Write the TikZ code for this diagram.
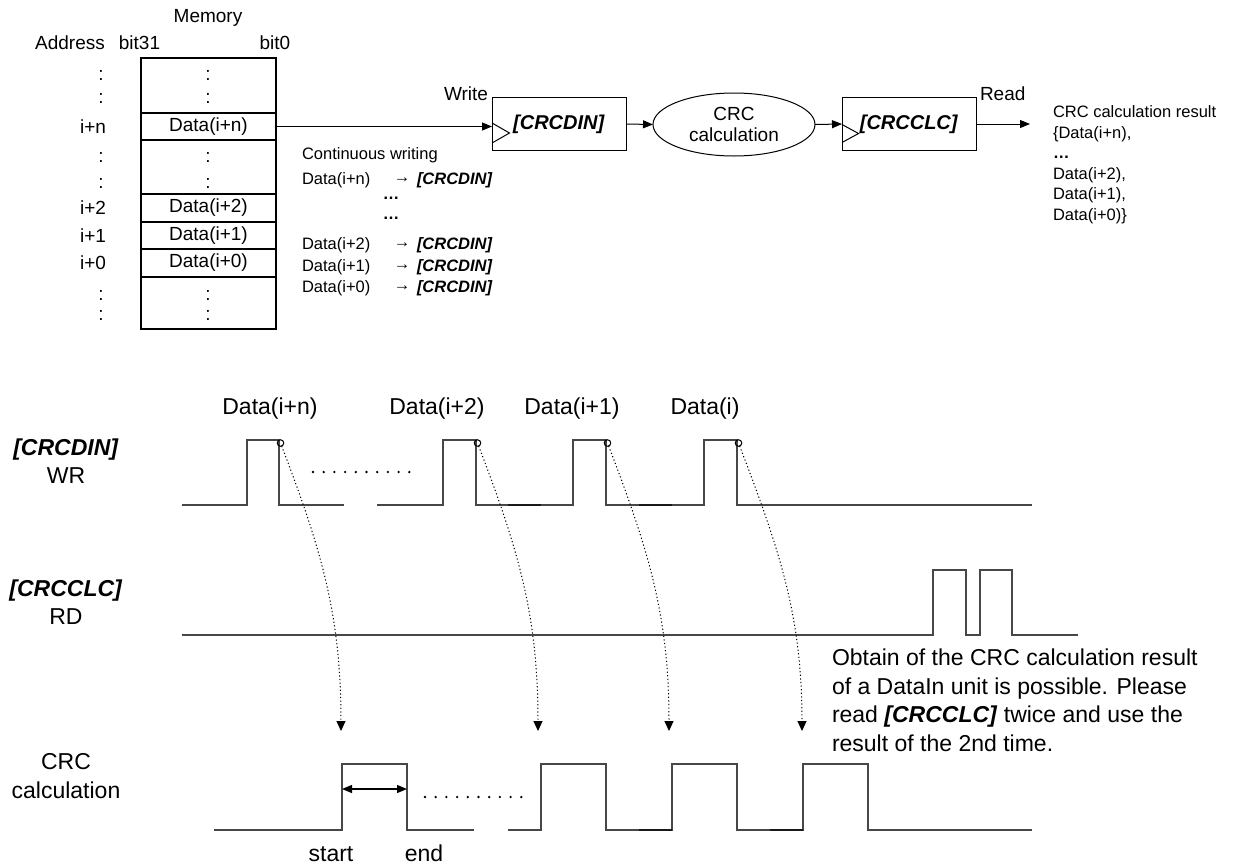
\documentclass[tikz,border=0pt]{standalone}
\usepackage{fontspec}
\setmainfont{Liberation Sans}
\usetikzlibrary{arrows.meta,shapes.geometric}
\newcommand{\memfont}{\fontsize{19}{22}\selectfont}
\newcommand{\cwfont}{\fontsize{16.5}{20}\selectfont}
\newcommand{\resfont}{\fontsize{16.5}{20.5}\selectfont}
\newcommand{\blkfont}{\fontsize{20}{22}\selectfont}
\newcommand{\tdfont}{\fontsize{23}{28.5}\selectfont}
\newcommand{\bi}[1]{\textbf{\textit{#1}}}
\begin{document}
\begin{tikzpicture}[x=1pt,y=-1pt,
  every node/.style={inner sep=0pt,outer sep=0pt},
  memrow/.style={draw,line width=1.2pt,minimum width=135pt},
  regbox/.style={draw,line width=1pt,minimum width=134pt,minimum height=53pt,font=\blkfont},
  blk/.style={line width=1pt,-{Triangle[width=8pt,length=10pt]}},
  wave/.style={draw=black!72,line width=1.1pt},
  dk/.style={draw=black!90,line width=1.6pt},
  dotarrow/.style={line width=1pt,dash pattern=on 1.2pt off 2.4pt,-{Triangle[width=9pt,length=10pt]}},
  ring/.style={circle,draw,line width=1pt,minimum size=6.5pt},
  dotrow/.style={line width=2.6pt,line cap=round,dash pattern=on 0pt off 10.7pt}
]
\fill[white] (0,0) rectangle (1237,865);
\useasboundingbox (0,0) rectangle (1237,865);

% ---------- memory ----------
\node[font=\memfont] (memlbl) at (208,18) {Memory};
\node[font=\memfont] (addrlbl) at (70,43) {Address};
\node[font=\memfont] (b31) at (139.5,43) {bit31};
\node[font=\memfont] (b0) at (275,43) {bit0};

\node[memrow,minimum height=55pt] (seg1) at (208.5,85.5) {};
\node[memrow,minimum height=27pt,font=\memfont] (rown) at (208.5,126.5) {Data(i+n)};
\node[memrow,minimum height=54pt] (seg2) at (208.5,167) {};
\node[memrow,minimum height=28pt,font=\memfont] (row2) at (208.5,208) {Data(i+2)};
\node[memrow,minimum height=27pt,font=\memfont] (row1) at (208.5,235.5) {Data(i+1)};
\node[memrow,minimum height=28pt,font=\memfont] (row0) at (208.5,263) {Data(i+0)};
\node[memrow,minimum height=52pt] (seg3) at (208.5,303) {};

\foreach \yy/\nm in {75/a,98/b,157/c,183/d,295/e,315/f}{
  \node[font=\memfont] (mc\nm) at (208,\yy) {:};
  \node[font=\memfont] (ac\nm) at (101,\yy) {:};
}
\node[font=\memfont] (an) at (93,126.5) {i+n};
\node[font=\memfont] (a2) at (93,208) {i+2};
\node[font=\memfont] (a1) at (93,235.5) {i+1};
\node[font=\memfont] (a0) at (93,263) {i+0};

% ---------- block diagram ----------
\node[regbox] (crcdin) at (559,124) {\bi{[CRCDIN]}};
\node[ellipse,draw,line width=1pt,minimum width=162pt,minimum height=63pt,align=center,font=\memfont] (calc) at (734,124.5) {CRC\\[-1pt]calculation};
\node[regbox] (crcclc) at (909,124) {\bi{[CRCCLC]}};
\draw[line width=1pt] (492,123) -- (509.5,133) -- (492,143);
\draw[line width=1pt] (842,124.5) -- (858.5,133.5) -- (842,142.5);

\node[font=\memfont,anchor=east] (wr) at (488,94) {Write};
\node[font=\memfont,anchor=west] (rd) at (980,94) {Read};

\draw[blk] (rown.east) -- (rown.east -| crcdin.west);
\draw[blk] (crcdin.east) -- (calc.west);
\draw[blk] (calc.east) -- (crcclc.west);
\coordinate (outend) at (1030,124);
\draw[blk] (crcclc.east) -- (outend);

\node[font=\resfont,align=left,anchor=north west] (result) at (1053,106)
  {CRC calculation result\\\{Data(i+n),\\\textbf{…}\\Data(i+2),\\Data(i+1),\\Data(i+0)\}};

% continuous writing list
\node[font=\cwfont,anchor=west] (cw) at (302,155) {Continuous writing};
\foreach \yy/\lbl/\nm in {180/i+n/n,245/i+2/2,267/i+1/1,288/i+0/0}{
  \node[font=\cwfont,anchor=west] (cd\nm) at (302,\yy) {Data(\lbl)};
  \node[font=\cwfont] (ca\nm) at (402,\yy) {→};
  \node[font=\cwfont,anchor=west] (cr\nm) at (417,\yy) {\bi{[CRCDIN]}};
}
\node[font=\cwfont] (cdots1) at (391,198) {\textbf{…}};
\node[font=\cwfont] (cdots2) at (391,218) {\textbf{…}};

% ---------- timing diagram ----------
\node[font=\tdfont] (lbn) at (270,409) {Data(i+n)};
\node[font=\tdfont] (lb2) at (437,409) {Data(i+2)};
\node[font=\tdfont] (lb1) at (572,409) {Data(i+1)};
\node[font=\tdfont] (lb0) at (705,409) {Data(i)};

\node[font=\tdfont,align=center] (wrlbl) at (66,461) {\bi{[CRCDIN]}\\WR};
\node[font=\tdfont,align=center] (rdlbl) at (66,602) {\bi{[CRCCLC]}\\RD};
\node[font=\tdfont,align=center] (cclbl) at (66,776) {CRC\\calculation};

% WR waveform
\draw[wave] (182,505) -- (247,505) -- (247,440) -- (279,440) -- (279,505) -- (344,505);
\draw[wave] (377,505) -- (443,505) -- (443,440) -- (476,440) -- (476,505) -- (573,505) -- (573,440) -- (606,440) -- (606,505) -- (704,505) -- (704,440) -- (737,440) -- (737,505) -- (1032,505);
\draw[dk] (508,505) -- (541,505);
\draw[dk] (639,505) -- (672,505);
\draw[dotrow] (313,472) -- (412,472);

% RD waveform
\draw[wave] (182,635) -- (933,635) -- (933,570) -- (966,570) -- (966,635) -- (980,635) -- (980,570) -- (1012,570) -- (1012,635) -- (1078,635);

% CRC calculation waveform
\draw[wave] (214,830) -- (342,830) -- (342,764) -- (407,764) -- (407,830) -- (474,830);
\draw[wave] (508,830) -- (541,830) -- (541,764) -- (606,764) -- (606,830) -- (672,830) -- (672,764) -- (737,764) -- (737,830) -- (803,830) -- (803,764) -- (868,764) -- (868,830) -- (1032,830);
\draw[dk] (639,830) -- (672,830);
\draw[dk] (770,830) -- (803,830);
\draw[dotrow] (425,797) -- (525,797);
\draw[line width=1.2pt,{Triangle[width=8pt,length=10pt]}-{Triangle[width=8pt,length=10pt]}] (342,789) -- (407,789);
\node[font=\tdfont,anchor=base] (st) at (331,861) {start};
\node[font=\tdfont,anchor=base] (en) at (424,861) {end};

% rings and dotted arrows
\node[ring] (c1) at (280.5,443) {};
\node[ring] (c2) at (477.5,443) {};
\node[ring] (c3) at (607.5,443) {};
\node[ring] (c4) at (738.5,443) {};
\coordinate (t1) at (341,731);
\coordinate (t2) at (538,731);
\coordinate (t3) at (669,731);
\coordinate (t4) at (802,731);
\draw[dotarrow] (c1) to[out=-69,in=90] (t1);
\draw[dotarrow] (c2) to[out=-69,in=90] (t2);
\draw[dotarrow] (c3) to[out=-69,in=90] (t3);
\draw[dotarrow] (c4) to[out=-69,in=90] (t4);

\node[font=\tdfont,align=left,anchor=north west] (note) at (832,649)
  {Obtain of the CRC calculation result\\of a DataIn unit is possible. Please\\read \bi{[CRCCLC]} twice and use the\\result of the 2nd time.};
\end{tikzpicture}
\end{document}
